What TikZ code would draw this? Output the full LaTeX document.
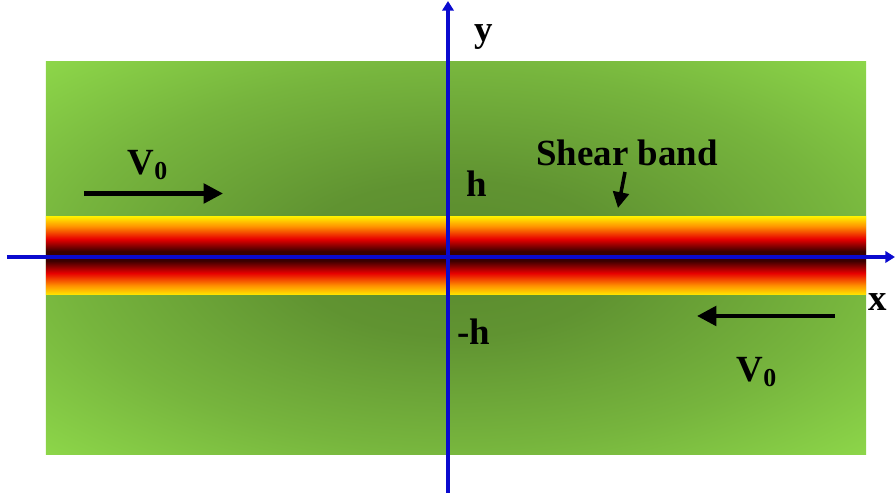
\documentclass[tikz,border=0pt]{standalone}
\usepackage{fontspec}
\setmainfont{Liberation Serif}
\usetikzlibrary{arrows.meta}
\definecolor{fieldlight}{HTML}{8ED84A}
\definecolor{fielddark}{HTML}{5A8A2E}
\definecolor{axisblue}{HTML}{0A0ACF}
\definecolor{bandyellow}{HTML}{FFEA00}
\definecolor{bandorange}{HTML}{FF9200}
\definecolor{bandred}{HTML}{E80000}
\definecolor{banddark}{HTML}{3A0000}
\pgfdeclareradialshading{fieldglow}{\pgfpoint{0bp}{0bp}}{color(0bp)=(fielddark); color(10bp)=(fielddark!88!fieldlight); color(24bp)=(fielddark!45!fieldlight); color(36bp)=(fieldlight); color(50bp)=(fieldlight)}
\pgfdeclareverticalshading{bandglow}{100bp}{color(0bp)=(bandyellow); color(25bp)=(bandyellow); color(31bp)=(bandorange); color(39bp)=(bandred); color(47bp)=(banddark); color(53bp)=(banddark); color(61bp)=(bandred); color(69bp)=(bandorange); color(75bp)=(bandyellow); color(100bp)=(bandyellow)}
\tikzset{
  lbl/.style={font=\fontsize{21}{25}\selectfont\bfseries, inner sep=0pt},
  axisline/.style={draw=axisblue, line width=2pt, -{Triangle[length=5.5pt,width=6.5pt]}},
  flowarrow/.style={draw=black, line width=2.4pt, -{Triangle[length=11pt,width=11pt]}},
  markarrow/.style={draw=black, line width=2pt, -{Triangle[length=9pt,width=9pt]}},
}

\begin{document}
\begin{tikzpicture}
    \useasboundingbox (-8.96,-4.8) rectangle (8.96,5.14);
    \shade[shading=fieldglow] (-8.04,-3.96) rectangle (8.36,3.9);
    \shade[shading=bandglow] (-8.04,-0.76) rectangle (8.36,0.8);
    \coordinate (xtail) at (-8.82,0);
    \coordinate (xhead) at (8.94,0);
    \coordinate (ytail) at (0,-4.72);
    \coordinate (yhead) at (0,5.12);
    \draw[axisline] (xtail) -- (xhead);
    \draw[axisline] (ytail) -- (yhead);
    \node[lbl] (ylabel) at (0.72,4.4) {y};
    \node[lbl] (xlabel) at (8.6,-0.9) {x};
    \node[lbl] (vtop) at (-6.0,1.84) {V\textsubscript{0}};
    \node[lbl] (vbottom) at (6.18,-2.3) {V\textsubscript{0}};
    \node[lbl] (hplus) at (0.58,1.46) {h};
    \node[lbl] (hminus) at (0.52,-1.5) {-h};
    \node[lbl] (shear) at (3.58,2.08) {Shear band};
    \coordinate (toptail) at (-7.28,1.27);
    \coordinate (tophead) at (-4.5,1.27);
    \coordinate (bottail) at (7.74,-1.18);
    \coordinate (bothead) at (4.98,-1.18);
    \coordinate (sheartail) at (3.54,1.7);
    \coordinate (shearhead) at (3.4,0.98);
    \draw[flowarrow] (toptail) -- (tophead);
    \draw[flowarrow] (bottail) -- (bothead);
    \draw[markarrow] (sheartail) -- (shearhead);
  \end{tikzpicture}
\end{document}
